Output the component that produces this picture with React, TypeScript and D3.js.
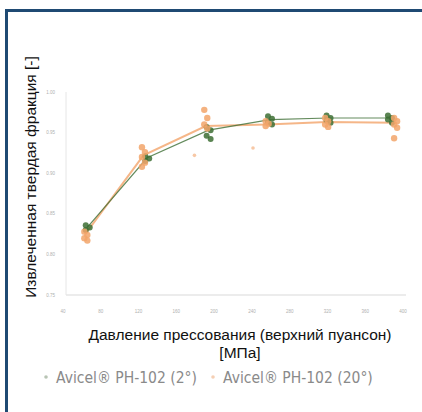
import React from "react";
import * as d3 from "d3";

// pressure levels (MPa)
const pressures = [63, 126, 191, 256, 318, 383];

// replicate measurements per pressure level
const green2 = [
  [0.836, 0.833, 0.830],
  [0.921, 0.918, 0.915],
  [0.957, 0.953, 0.946, 0.942],
  [0.970, 0.967, 0.963, 0.960],
  [0.971, 0.968, 0.965, 0.962],
  [0.971, 0.968, 0.966, 0.962],
];
const orange20 = [
  [0.828, 0.824, 0.820, 0.817],
  [0.932, 0.926, 0.920, 0.913, 0.908],
  [0.978, 0.968, 0.960, 0.955, 0.922],
  [0.964, 0.961, 0.958, 0.931],
  [0.968, 0.964, 0.960, 0.957],
  [0.968, 0.964, 0.960, 0.956, 0.943],
];
const greenMean = [0.834, 0.919, 0.953, 0.966, 0.968, 0.968];
const orangeMean = [0.826, 0.922, 0.958, 0.960, 0.963, 0.962];
// x offsets of orange cluster relative to green one (MPa)
const orangeShift = [-2, -4, -3, -3, -2, 6];
const outlierX = [0, 0, -12, -15, 0, 6];

const xTicks = [40, 80, 120, 160, 200, 240, 280, 320, 360, 400];
const yTicks = [0.75, 0.8, 0.85, 0.9, 0.95, 1.0];
const legend = ["Avicel® PH-102 (2°)", "Avicel® PH-102 (20°)"];

const GREEN = "#3d6e34";
const ORANGE = "#f2a46a";

export default function App() {
  const x = d3.scaleLinear().domain([40, 400]).range([66, 406]);
  const y = d3.scaleLinear().domain([0.75, 1.0]).range([295, 92]);
  const line = d3
    .line<[number, number]>()
    .x((d) => x(d[0]))
    .y((d) => y(d[1]));

  const gLine = pressures.map((p, i) => [p, greenMean[i]] as [number, number]);
  const oLine = pressures.map(
    (p, i) => [p + orangeShift[i], orangeMean[i]] as [number, number]
  );

  return (
    <svg
      width={422}
      height={412}
      style={{ position: "absolute", left: 0, top: 0, background: "#fff" }}
      fontFamily="Liberation Sans, Arial, sans-serif"
    >
      <rect x={0} y={0} width={422} height={412} fill="#fff" />
      {/* frame */}
      <line x1={6.5} y1={10.5} x2={6.5} y2={412} stroke="#1f4a73" strokeWidth={3} />
      <line x1={5} y1={10.5} x2={422} y2={10.5} stroke="#1f4a73" strokeWidth={3} />

      {/* axes */}
      <line x1={x(40)} y1={y(0.75)} x2={x(400)} y2={y(0.75)} stroke="#d9d9d9" />
      <line x1={x(40)} y1={y(0.75)} x2={x(40)} y2={y(1.0)} stroke="#e6e6e6" />
      {yTicks.map((t) => (
        <text
          key={t}
          x={55}
          y={y(t) + 1.5}
          textAnchor="end"
          fontSize={4.5}
          fill="#b0b0b0"
        >
          {t.toFixed(2)}
        </text>
      ))}
      {xTicks.map((t) => (
        <text
          key={t}
          x={x(t) - 3}
          y={313}
          textAnchor="middle"
          fontSize={4.5}
          fill="#b0b0b0"
        >
          {t}
        </text>
      ))}

      {/* lines */}
      <path d={line(oLine) ?? ""} fill="none" stroke={ORANGE} strokeWidth={2} opacity={0.8} />
      <path d={line(gLine) ?? ""} fill="none" stroke={GREEN} strokeWidth={1.2} opacity={0.8} />

      {/* green points */}
      {green2.map((vals, i) =>
        vals.map((v, j) => (
          <circle
            key={`g${i}-${j}`}
            cx={x(pressures[i]) + (j % 2 ? 2 : -2)}
            cy={y(v)}
            r={3}
            fill={GREEN}
            opacity={0.85}
          />
        ))
      )}
      {/* orange points */}
      {orange20.map((vals, i) =>
        vals.map((v, j) => {
          const isOut = Math.abs(v - orangeMean[i]) > 0.025;
          const cx = isOut
            ? x(pressures[i] + orangeShift[i] + outlierX[i])
            : x(pressures[i] + orangeShift[i]) + (j % 2 ? 1.5 : -1.5);
          return (
            <circle
              key={`o${i}-${j}`}
              cx={cx}
              cy={y(v)}
              r={isOut ? 1.8 : 3.2}
              fill={ORANGE}
              opacity={isOut ? 0.6 : 0.85}
            />
          );
        })
      )}

      {/* axis titles */}
      <text
        transform={`translate(36,177) rotate(-90)`}
        textAnchor="middle"
        fontSize={15.5}
        fill="#111"
      >
        Извлеченная твердая фракция [-]
      </text>
      <text x={240} y={340} textAnchor="middle" fontSize={15.5} fill="#111">
        Давление прессования (верхний пуансон)
      </text>
      <text x={240} y={358} textAnchor="middle" fontSize={15.5} fill="#111">
        [МПа]
      </text>

      {/* legend */}
      {legend.map((l, i) => (
        <g key={l} transform={`translate(${i === 0 ? 46 : 213},383)`}>
          <circle cx={0} cy={-6} r={1.8} fill={i === 0 ? "#b8c4b4" : "#f5cfb4"} />
          <text x={10} y={0} fontSize={15.5} fill="#8a8a8a" fontFamily="DejaVu Sans Condensed, Liberation Sans Narrow, sans-serif">
            {l}
          </text>
        </g>
      ))}
    </svg>
  );
}
